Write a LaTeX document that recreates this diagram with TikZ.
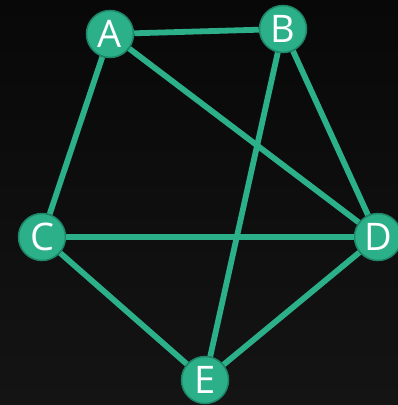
\documentclass[tikz,border=0pt]{standalone}
\usepackage{fontspec}
\setmainfont{Open Sans}
\usepackage{tikz}
\usetikzlibrary{positioning}
\definecolor{mygreen}{RGB}{43,176,138}
\definecolor{mydkgreen}{RGB}{30,135,105}
\definecolor{bgtop}{RGB}{8,8,8}
\definecolor{bgbot}{RGB}{20,20,20}
\tikzset{
  vertex/.style={circle, draw=mydkgreen, fill=mygreen, line width=1.5pt,
    minimum size=47pt, inner sep=0pt, text=white,
    font=\fontsize{38}{38}\selectfont},
  edge/.style={draw=mygreen, line width=5.8pt}
}

\begin{document}
\begin{tikzpicture}[x=1pt, y=-1pt]
  % background
  \shade[top color=bgtop, bottom color=bgbot] (0,0) rectangle (398,405);
  \useasboundingbox (0,0) rectangle (398,405);

  % vertices
  \node[vertex] (A) at (110,34) {A};
  \node[vertex] (B) at (283,29) {B};
  \node[vertex] (C) at (42,237) {C};
  \node[vertex] (D) at (378,237) {D};
  \node[vertex] (E) at (205,380) {E};

  % edges
  \draw[edge] (A) -- (B);
  \draw[edge] (A) -- (C);
  \draw[edge] (A) -- (D);
  \draw[edge] (B) -- (D);
  \draw[edge] (B) -- (E);
  \draw[edge] (C) -- (D);
  \draw[edge] (C) -- (E);
  \draw[edge] (D) -- (E);
\end{tikzpicture}
\end{document}
